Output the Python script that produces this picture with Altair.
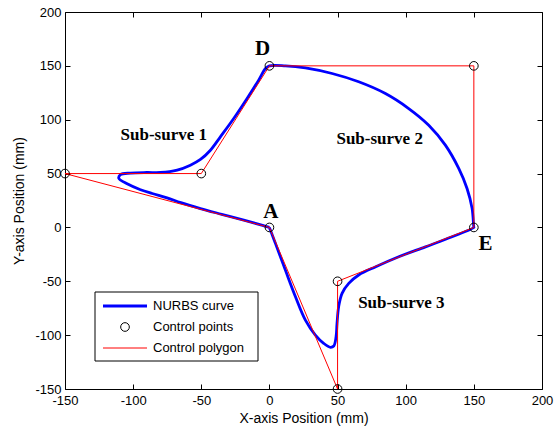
import altair as alt
import pandas as pd

# NURBS curve points (closed path A -> D -> E -> A)
curve_x = [0, -5, -18.8, -35, -50.6, -65, -75.1, -86, -94.6, -104.4, -110.5, -109.3,
           -102, -90, -80, -67.7, -58, -50.6, -43.3, -36, -26.2, -16.4, -7.9, -2.9, 0,
           11.7, 26.4, 46, 65.5, 85.1, 102.2, 116.9, 129.1, 138.9, 145, 148.7, 149.9, 150,
           134, 114.5, 94.9, 78, 65.5, 58.2, 53.3, 50.8, 49.6, 48.9, 47.2, 44.8, 39.8,
           33.7, 26.4, 19.1, 11.7, 4.4, 0.7, 0]
curve_y = [0, 1.9, 6.8, 12.2, 17.5, 23, 27.5, 31.5, 35, 40.5, 45.5, 49,
           50.5, 51, 51, 53.2, 57.8, 63.1, 71.7, 84.1, 101.1, 119.7, 136.7, 147.5, 150,
           150, 148.1, 142.9, 135.2, 124.3, 110.4, 94.9, 76.4, 54.8, 36.2, 17.7, 0.6, 0,
           -8.7, -18, -27.2, -36.5, -44.2, -52, -61.2, -73.6, -89, -101.5, -110.1, -111.3, -107.6,
           -99.9, -86, -64.3, -39.6, -14.8, -2.5, 0]

# Control points / closed control polygon
ctrl_x = [0, -150, -50, 0, 150, 150, 50, 50, 0]
ctrl_y = [0, 50, 50, 150, 150, 0, -50, -150, 0]

# Annotations
lab_text = ["D", "A", "E"]
lab_x = [-5, 1, 158.5]
lab_y = [166, 14, -15]
sub_text = ["Sub-surve 1", "Sub-surve 2", "Sub-surve 3"]
sub_x = [-77.5, 80.9, 96.8]
sub_y = [85.6, 82, -70.5]

tick_vals = [-150, -100, -50, 0, 50, 100, 150, 200]
legend_labels = ["NURBS curve", "Control points", "Control polygon"]

curve = pd.DataFrame({"x": curve_x, "y": curve_y, "o": range(len(curve_x))})
poly = pd.DataFrame({"x": ctrl_x, "y": ctrl_y, "o": range(len(ctrl_x))})
pts = pd.DataFrame({"x": ctrl_x[:-1], "y": ctrl_y[:-1]})
labs = pd.DataFrame({"t": lab_text, "x": lab_x, "y": lab_y})
subs = pd.DataFrame({"t": sub_text, "x": sub_x, "y": sub_y})

xs = alt.Scale(domain=[-150, 200], nice=False, zero=False)
ys = alt.Scale(domain=[-150, 200], nice=False, zero=False)

FONT = "Liberation Sans"
SERIF = "Liberation Serif"

main_x_axis = alt.Axis(values=tick_vals, ticks=False, domain=False, grid=False,
                       labelExpr="'' + datum.value",
                       labelFlush=False, labelPadding=5, labelFontSize=13, labelFont=FONT,
                       labelColor="black", title="X-axis Position (mm)", titleFont=FONT,
                       titleFontSize=14, titleFontWeight="normal", titleColor="black",
                       titlePadding=4)
main_y_axis = alt.Axis(values=tick_vals, ticks=False, domain=False, grid=False,
                       labelExpr="'' + datum.value",
                       labelFlush=False, labelPadding=4, labelFontSize=13, labelFont=FONT,
                       labelColor="black", title="Y-axis Position (mm)", titleFont=FONT,
                       titleFontSize=14, titleFontWeight="normal", titleColor="black",
                       titlePadding=8)


def tick_axis(orient):
    return alt.Axis(orient=orient, values=tick_vals, ticks=True, tickSize=5, offset=-5,
                    tickColor="black", tickWidth=1, domain=False, grid=False,
                    labels=False, title=None)


curve_layer = alt.Chart(curve).mark_line(color="#0000FF", strokeWidth=2.8,
                                         interpolate="catmull-rom").encode(
    x=alt.X("x:Q", scale=xs, axis=main_x_axis),
    y=alt.Y("y:Q", scale=ys, axis=main_y_axis),
    order="o:Q",
)

poly_layer = alt.Chart(poly).mark_line(color="#FF0000", strokeWidth=1).encode(
    x=alt.X("x:Q", scale=xs, axis=tick_axis("bottom")),
    y=alt.Y("y:Q", scale=ys, axis=tick_axis("left")),
    order="o:Q",
)

pts_layer = alt.Chart(pts).mark_point(shape="circle", filled=False, color="black",
                                       strokeWidth=1, size=75, opacity=1).encode(
    x=alt.X("x:Q", scale=xs, axis=tick_axis("top")),
    y=alt.Y("y:Q", scale=ys, axis=tick_axis("right")),
)

lab_layer = alt.Chart(labs).mark_text(font=SERIF, fontWeight="bold", fontSize=21,
                                      color="black", baseline="middle").encode(
    x=alt.X("x:Q", scale=xs, axis=None),
    y=alt.Y("y:Q", scale=ys, axis=None),
    text="t:N",
)

sub_layer = alt.Chart(subs).mark_text(font=SERIF, fontWeight="bold", fontSize=17,
                                      color="black", baseline="middle").encode(
    x=alt.X("x:Q", scale=xs, axis=None),
    y=alt.Y("y:Q", scale=ys, axis=None),
    text="t:N",
)

one = alt.Data(values=[{"a": 1}])
leg_box = alt.Chart(one).mark_rect(fill="white", stroke="black", strokeWidth=1).encode(
    x=alt.value(30), x2=alt.value(193), y=alt.value(280), y2=alt.value(349))
leg_l1 = alt.Chart(one).mark_rule(color="#0000FF", strokeWidth=2.8).encode(
    x=alt.value(38), x2=alt.value(82), y=alt.value(294))
leg_p = alt.Chart(one).mark_point(shape="circle", filled=False, color="black",
                                  strokeWidth=1, size=75, opacity=1).encode(
    x=alt.value(60), y=alt.value(315))
leg_l2 = alt.Chart(one).mark_rule(color="#FF0000", strokeWidth=1).encode(
    x=alt.value(38), x2=alt.value(82), y=alt.value(336))
leg_df = pd.DataFrame({"t": legend_labels, "r": [294, 315, 336]})
leg_txt = alt.Chart(leg_df).mark_text(font=FONT, fontSize=13, color="black",
                                      align="left", baseline="middle").encode(
    x=alt.value(88), y=alt.Y("r:Q", scale=None), text="t:N")

chart = alt.layer(
    curve_layer, poly_layer, pts_layer, lab_layer, sub_layer,
    leg_box, leg_l1, leg_p, leg_l2, leg_txt,
).resolve_axis(x="independent", y="independent").properties(
    width=477, height=377,
    autosize=alt.AutoSizeParams(type="none"),
    padding={"left": 65, "top": 12, "right": 13, "bottom": 41},
    background="white",
).configure_view(stroke="black", strokeWidth=1)

chart.save("out.html", embed_options={"renderer": "svg", "actions": False})
